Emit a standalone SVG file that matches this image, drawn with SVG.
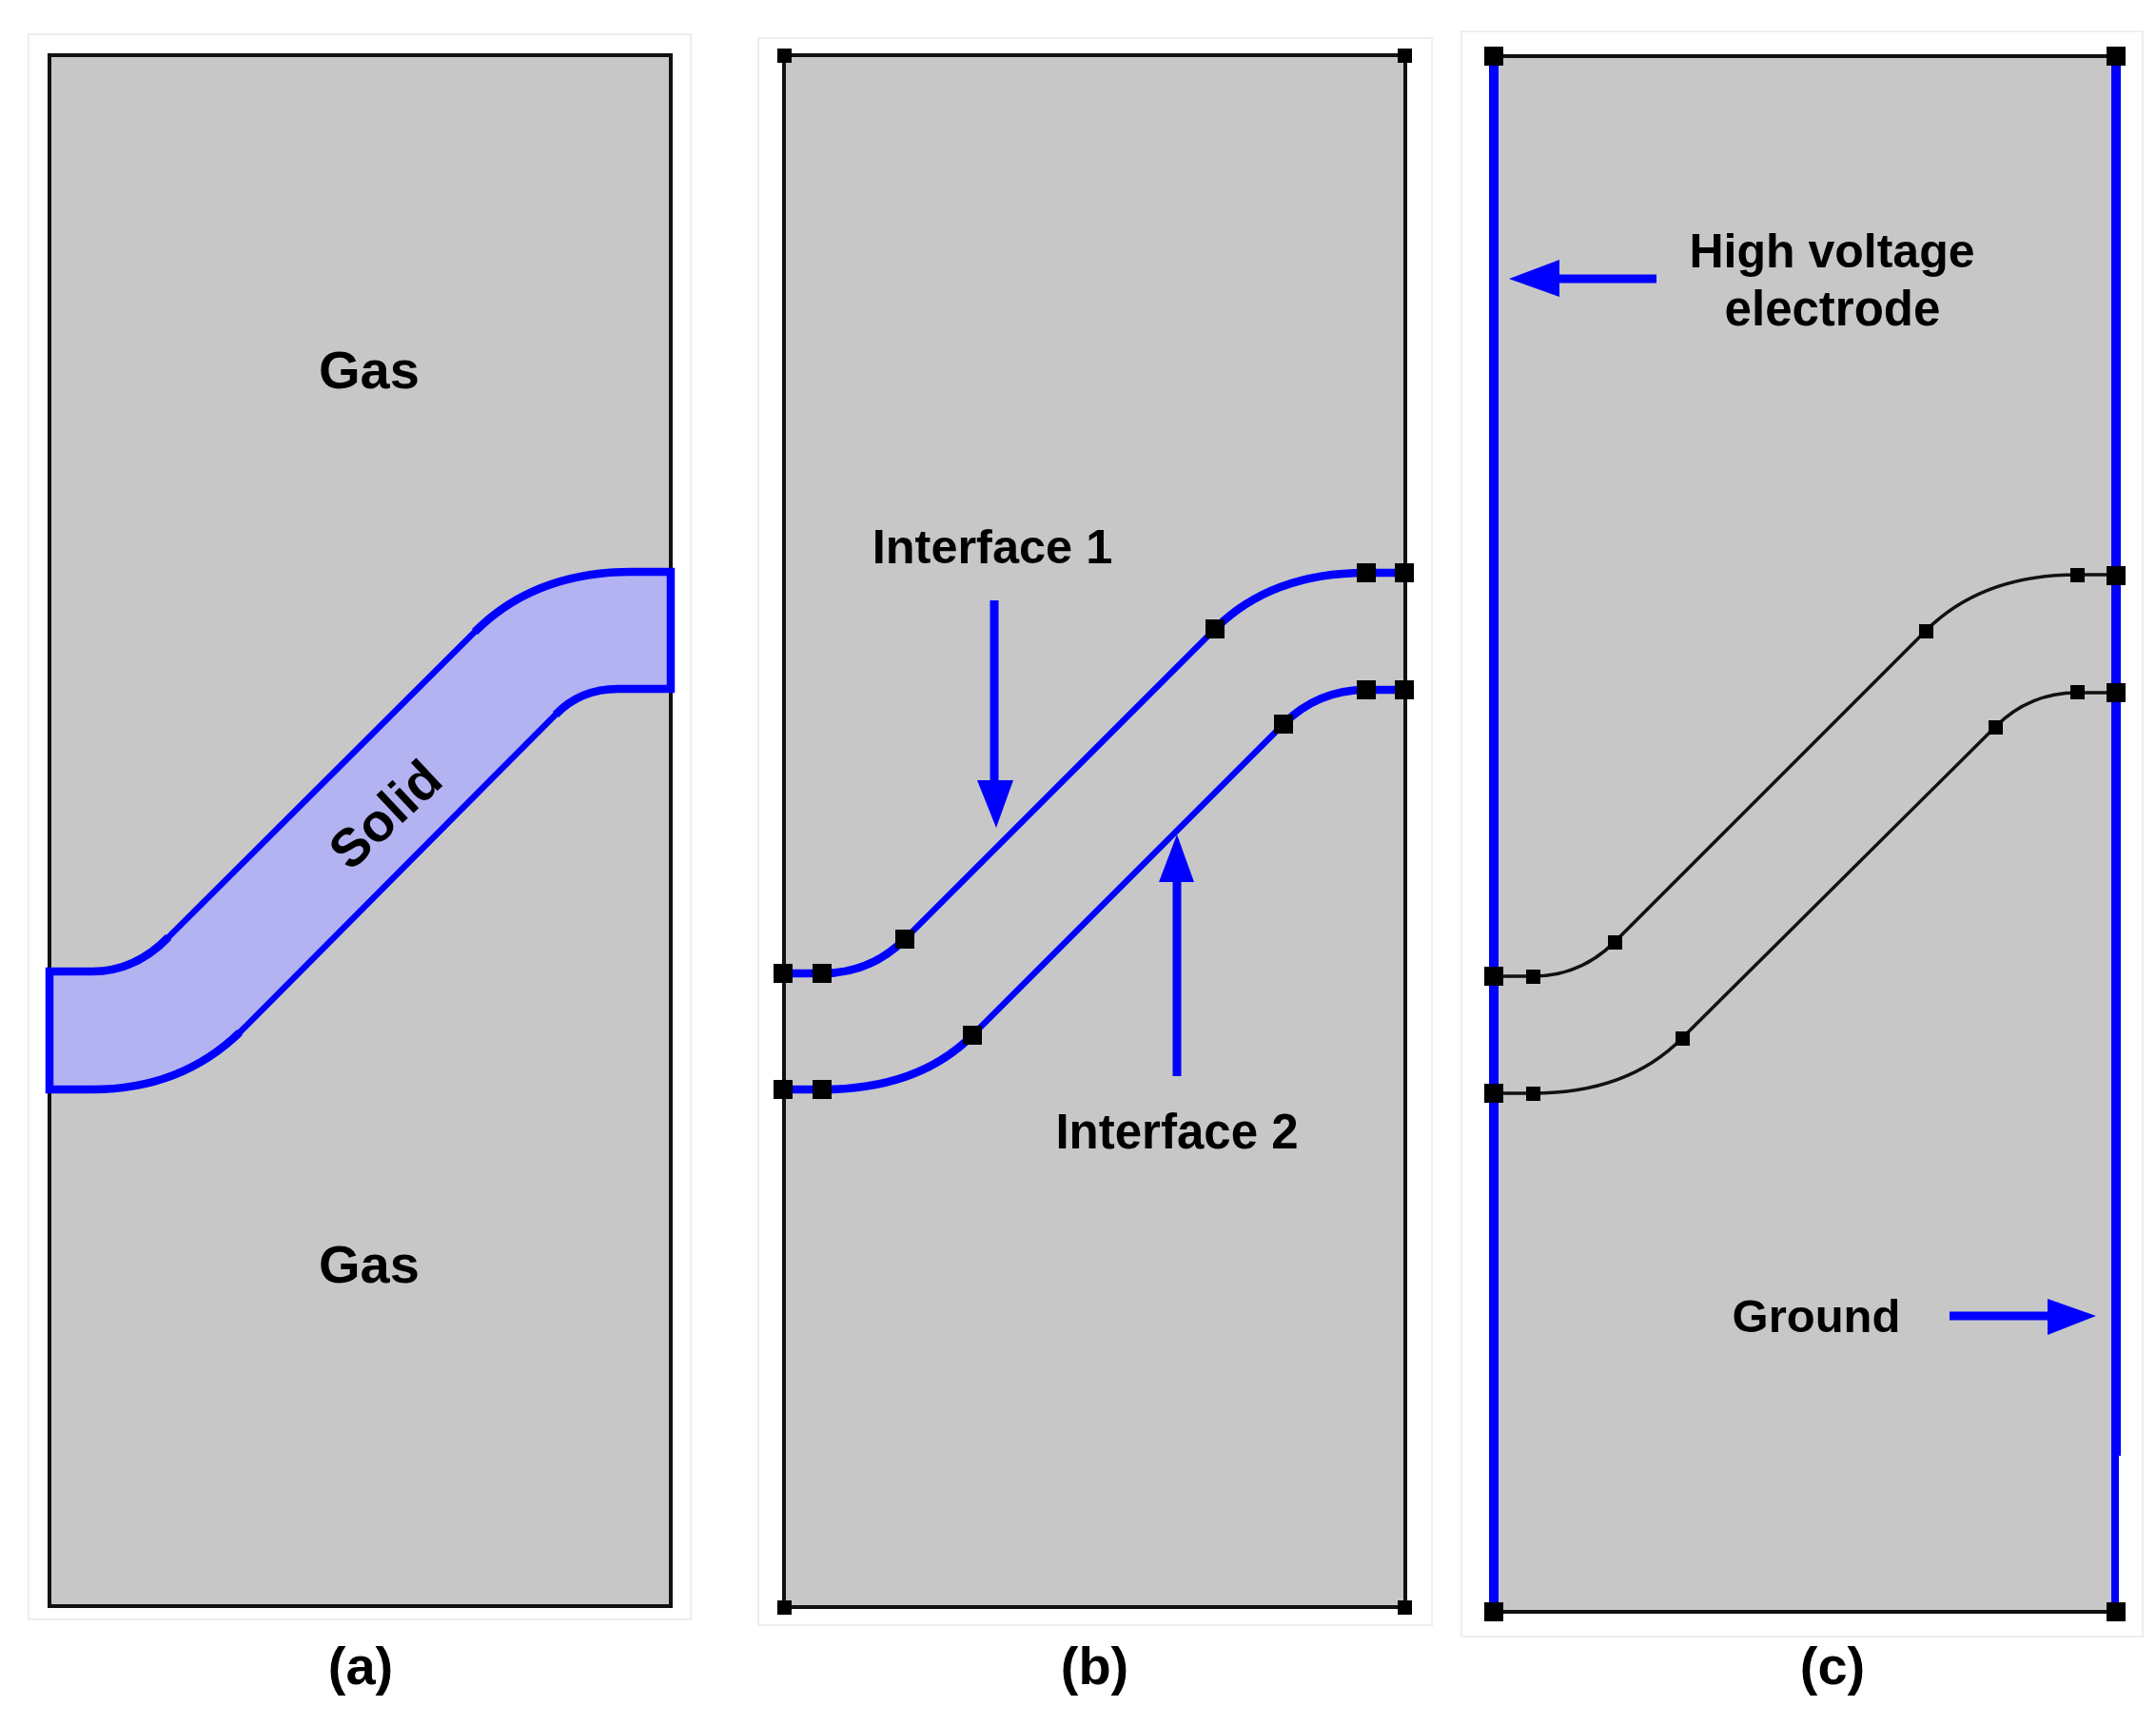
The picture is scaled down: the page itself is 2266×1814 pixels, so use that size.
<svg xmlns="http://www.w3.org/2000/svg" width="2266" height="1814" viewBox="0 0 2266 1814">
<style>
.frame{fill:#fff;stroke:#eeeeee;stroke-width:2}
.bg{fill:#c7c7c7;stroke:#111;stroke-width:4}
.t{font-family:"Liberation Sans",Arial,sans-serif;font-weight:bold;fill:#000;text-anchor:middle}
.big{font-size:56px}
.thick{fill:none;stroke:#0000ff;stroke-width:8.5}
.thin{fill:none;stroke:#0000ff;stroke-width:6.5;stroke-linecap:round}
.blk{fill:none;stroke:#111;stroke-width:3.5}
.edge{fill:none;stroke:#0000ff;stroke-width:10}
.shaft{fill:none;stroke:#0000ff;stroke-width:9}
.head{fill:#0000ff}
.n{fill:#000}
</style>
<rect width="2266" height="1814" fill="#fff"/>
<g id="panel-a">
<rect class="frame" x="30" y="36" width="696" height="1666"/>
<rect class="bg" x="52" y="58" width="653" height="1630"/>
<g id="solid">
<path d="M52 1021H97Q142 1021 177 985L499 664Q562 601 664 601H705V724H650Q610 724 584 751L252 1085Q190 1145 97 1145H52Z" fill="#b3b3f2" stroke="none"/>
<path class="thin" d="M177 985L499 664M584 751L252 1085"/>
<path class="thick" d="M177 985Q142 1021 97 1021H52V1145H97Q190 1145 252 1085M499 664Q562 601 664 601H705V724H650Q610 724 584 751"/>
</g>
<text class="t big" x="388" y="408">Gas</text>
<text class="t big" x="388" y="1348">Gas</text>
<text class="t" font-size="56" transform="translate(418 870) rotate(-43)">Solid</text>
<text class="t big" x="379" y="1770">(a)</text>
</g>
<g id="panel-b">
<rect class="frame" x="797" y="40" width="708" height="1668"/>
<rect class="bg" x="824" y="58" width="653" height="1631"/>
<text class="t" font-size="50.5" x="1043" y="592">Interface 1</text>
<text class="t" font-size="51" x="1237" y="1207">Interface 2</text>
<text class="t big" x="1150.5" y="1770">(b)</text>
</g>
<g id="panel-c">
<rect class="frame" x="1536" y="33" width="716" height="1687"/>
<rect x="1570" y="59" width="654" height="1635" fill="#c7c7c7"/>
<text class="t" font-size="50" x="1925.5" y="281">High voltage</text>
<text class="t" font-size="51" x="1926" y="342">electrode</text>
<text class="t" font-size="49" x="1909" y="1400">Ground</text>
<text class="t big" x="1926" y="1770">(c)</text>
</g>
<g id="connectors">
<path class="thick" d="M823 1023H864Q915 1023 951 987M1277 661Q1336 602 1436 602H1476M823 1145H864Q965 1145 1022 1088M1349 761Q1385 725 1436 725H1476"/>
<path class="thin" d="M951 987L1277 661M1022 1088L1349 761"/>
<path class="shaft" d="M1045 631V822M1237 1131V925"/>
<path class="head" d="M1027 820H1065L1047 870ZM1218 927H1255L1237 877Z"/>
<path class="edge" d="M1570 59V1694"/>
<path class="edge" d="M2224 59V1530"/>
<path class="edge" style="stroke-width:8" d="M2223 1530V1694"/>
<path class="blk" style="stroke-width:4" d="M1570 59H2224M1570 1694H2224"/>
<path class="blk" d="M1570 1026H1611Q1661 1026 1697 990L2024 663Q2083 604 2183 604H2224M1570 1149H1611Q1711 1149 1768 1091L2097 764Q2133 728 2183 728H2224"/>
<path class="shaft" d="M1741 293H1635M2049 1383H2156"/>
<path class="head" d="M1586 293L1639 273V312ZM2203 1383L2152 1365V1403Z"/>
</g>
<g id="nodes-b">
<rect class="n" x="817" y="51" width="15" height="15"/><rect class="n" x="1469" y="51" width="15" height="15"/>
<rect class="n" x="817" y="1682" width="15" height="15"/><rect class="n" x="1469" y="1682" width="15" height="15"/>
<rect class="n" x="813" y="1013" width="20" height="20"/><rect class="n" x="854" y="1013" width="20" height="20"/>
<rect class="n" x="941" y="977" width="20" height="20"/><rect class="n" x="1267" y="651" width="20" height="20"/>
<rect class="n" x="1426" y="592" width="20" height="20"/><rect class="n" x="1466" y="592" width="20" height="20"/>
<rect class="n" x="813" y="1135" width="20" height="20"/><rect class="n" x="854" y="1135" width="20" height="20"/>
<rect class="n" x="1012" y="1078" width="20" height="20"/><rect class="n" x="1339" y="751" width="20" height="20"/>
<rect class="n" x="1426" y="715" width="20" height="20"/><rect class="n" x="1466" y="715" width="20" height="20"/>
</g>
<g id="nodes-c">
<rect class="n" x="1560" y="49" width="20" height="20"/><rect class="n" x="2214" y="49" width="20" height="20"/>
<rect class="n" x="1560" y="1684" width="20" height="20"/><rect class="n" x="2214" y="1684" width="20" height="20"/>
<rect class="n" x="1560" y="1016" width="20" height="20"/><rect class="n" x="1560" y="1139" width="20" height="20"/>
<rect class="n" x="2214" y="595" width="20" height="20"/><rect class="n" x="2214" y="718" width="20" height="20"/>
<rect class="n" x="1604" y="1019" width="15" height="15"/><rect class="n" x="1690" y="983" width="15" height="15"/>
<rect class="n" x="2017" y="656" width="15" height="15"/><rect class="n" x="2176" y="597" width="15" height="15"/>
<rect class="n" x="1604" y="1142" width="15" height="15"/><rect class="n" x="1761" y="1084" width="15" height="15"/>
<rect class="n" x="2090" y="757" width="15" height="15"/><rect class="n" x="2176" y="720" width="15" height="15"/>
</g>
</svg>
